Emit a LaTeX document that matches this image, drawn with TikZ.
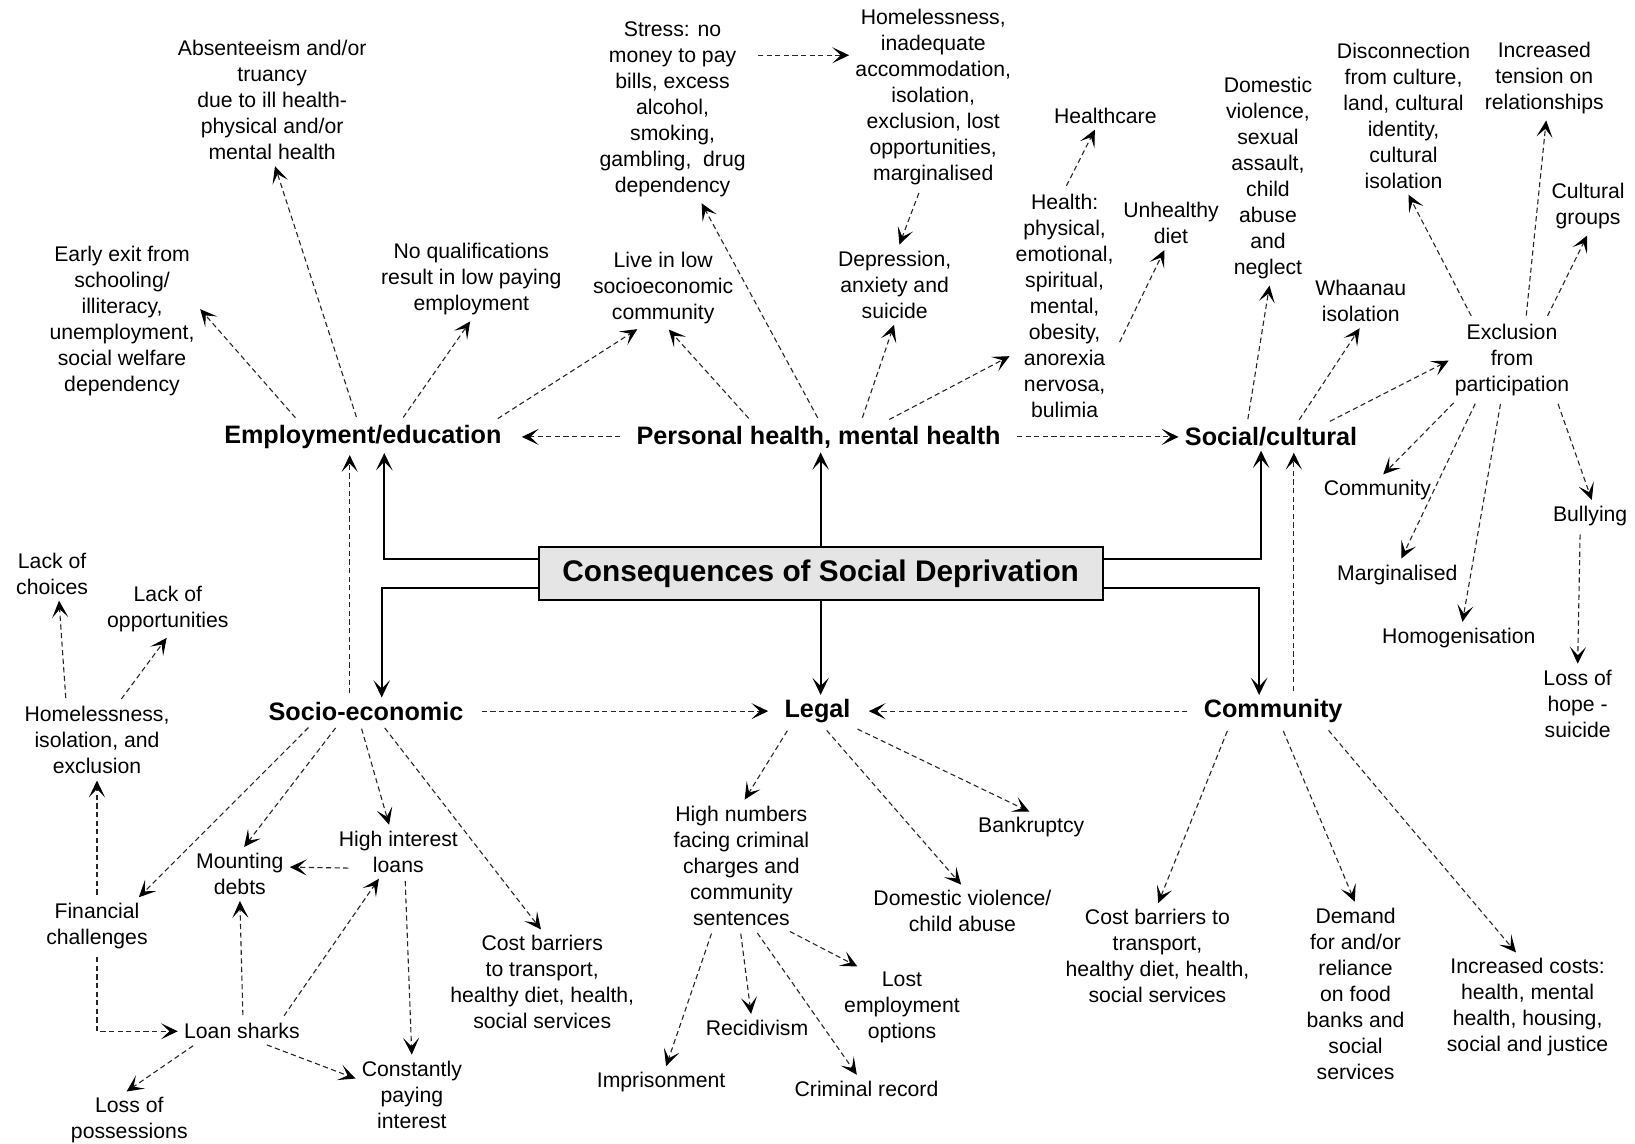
\documentclass[tikz,border=0pt]{standalone}
\usepackage{fontspec}
\setmainfont{Liberation Sans}
\usetikzlibrary{arrows.meta}

\newcommand{\lblfont}{\fontsize{10.6}{13}\selectfont}
\newcommand{\hdrfont}{\bfseries\fontsize{12.6}{15}\selectfont}

\tikzset{
  lbl/.style={align=center, font=\lblfont, inner sep=2pt},
  hdr/.style={font=\hdrfont, inner sep=2pt},
  dsh/.style={black!85, line width=0.55pt, dash pattern=on 2.6pt off 1.7pt,
    shorten <=2pt, shorten >=1pt,
    -{Stealth[length=8.4pt,width=8pt,inset=4.2pt,color=black]}},
  sld/.style={black, line width=1.1pt, -{Stealth[length=8.6pt,width=8.2pt,inset=4.2pt]}},
}

\begin{document}
\begin{tikzpicture}[x=0.5214pt, y=-0.5214pt]
                \useasboundingbox (0,0) rectangle (1568,1097);

                %% centre box
                \node[draw, fill=gray!20, line width=1pt, inner sep=0pt,
                  font=\bfseries\fontsize{14.9}{18}\selectfont,
                  minimum width=282pt, minimum height=26.6pt] (csd) at (787,550) {Consequences of Social Deprivation};

                %% headings
                \node[hdr] (emp)   at (348,419)  {Employment/education};
                \node[hdr] (pers)  at (785,419)  {Personal health, mental health};
                \node[hdr] (soc)   at (1219,419) {Social/cultural};
                \node[hdr] (socio) at (351,682)  {Socio-economic};
                \node[hdr] (legal) at (784,682)  {Legal};
                \node[hdr] (comm)  at (1221,682) {Community};

                \draw[sld] (csd.177) -| (emp.-37);
                \draw[sld] (csd.183) -| (socio.41);
                \draw[sld] (csd.north) -- (csd.north |- pers.south);
                \draw[sld] (csd.south) -- (csd.south |- legal.north);
                \draw[sld] (csd.3) -| (soc.-126);
                \draw[sld] (csd.-3) -| (comm.131);

                \draw[dsh] (socio.140) -- (socio.140 |- emp.south);
                \draw[dsh] (comm.38) -- (comm.38 |- soc.south);
                \draw[dsh, shorten <=6pt, shorten >=8pt] (pers.west) -- (emp.east);
                \draw[dsh, shorten <=6pt] (pers.east) -- (soc.west);
                \draw[dsh, shorten <=7pt, shorten >=6pt] (socio.east) -- (legal.west);
                \draw[dsh, shorten <=6pt, shorten >=7pt] (comm.west) -- (legal.east);

                %% Employment/education
                \node[lbl] (early)   at (117,308) {Early exit from\\schooling/\\illiteracy,\\unemployment,\\social welfare\\dependency};
                \node[lbl] (absent)  at (261,96)  {Absenteeism and/or\\truancy\\due to ill health-\\physical and/or\\mental health};
                \node[lbl] (noqual)  at (452,268) {No qualifications\\result in low paying\\employment};
                \node[lbl] (livelow) at (636,276) {Live in low\\socioeconomic\\community};

                \draw[dsh] (emp.166) -- (early.10);
                \draw[dsh] (emp.108) -- (absent.-88);
                \draw[dsh] (emp.23) -- (noqual.south);
                \draw[dsh] (emp.7) -- (livelow.-121);

                %% Personal health, mental health
                \node[lbl] (stress)     at (645,105)  {Stress: no\\money to pay\\bills, excess\\alcohol,\\smoking,\\gambling,~ drug\\dependency};
                \node[lbl] (homeless1)  at (895,93)   {Homelessness,\\inadequate\\accommodation,\\isolation,\\exclusion, lost\\opportunities,\\marginalised};
                \node[lbl] (depress)    at (858,273)  {Depression,\\anxiety and\\suicide};
                \node[lbl] (health)     at (1021,293) {Health:\\physical,\\emotional,\\spiritual,\\mental,\\obesity,\\anorexia\\nervosa,\\bulimia};
                \node[lbl] (healthcare) at (1060,111) {Healthcare};
                \node[lbl] (diet)       at (1123,214) {Unhealthy\\diet};

                \draw[dsh] (pers.167) -- (livelow.-84);
                \draw[dsh] (pers.86) -- (stress.-73);
                \draw[dsh] (pers.20) -- (depress.south);
                \draw[dsh] (pers.13) -- (health.223);
                \draw[dsh, shorten <=4pt] (stress.35) -- (stress.35 -| homeless1.west);
                \draw[dsh] (homeless1.-98) -- (depress.84);
                \draw[dsh] (health.north) -- (healthcare.-128);
                \draw[dsh] (health.-37) -- (diet.-103);

                %% Social/cultural
                \node[lbl] (domviol)   at (1216,171) {Domestic\\violence,\\sexual\\assault,\\child\\abuse\\and\\neglect};
                \node[lbl] (whaanau)   at (1305,289) {Whaanau\\isolation};
                \node[lbl] (excl)      at (1450,345) {Exclusion\\from\\participation};
                \node[lbl] (disconn)   at (1346,111) {Disconnection\\from culture,\\land, cultural\\identity,\\cultural\\isolation};
                \node[lbl] (tension)   at (1481,75)  {Increased\\tension on\\relationships};
                \node[lbl] (cultgrp)   at (1523,198) {Cultural\\groups};
                \node[lbl] (commsmall) at (1321,470) {Community};
                \node[lbl] (margin)    at (1340,551) {Marginalised};
                \node[lbl] (homog)     at (1399,612) {Homogenisation};
                \node[lbl] (bully)     at (1525,495) {Bullying};
                \node[lbl] (losshope)  at (1513,675) {Loss of\\hope -\\suicide};

                \draw[dsh] (soc.150) -- (domviol.-89);
                \draw[dsh] (soc.28) -- (whaanau.south);
                \draw[dsh] (soc.14) -- (excl.west);
                \draw[dsh] (excl.134) -- (disconn.-87);
                \draw[dsh] (excl.71) -- (tension.-87);
                \draw[dsh] (excl.50) -- (cultgrp.south);
                \draw[dsh] (excl.216) -- (commsmall.73);
                \draw[dsh] (excl.-131) -- (margin.77);
                \draw[dsh] (excl.-105) -- (homog.77);
                \draw[dsh] (excl.-42) -- (bully.81);
                \draw[dsh] (bully.-125) -- (losshope.north);

                %% Socio-economic
                \node[lbl] (homeless2) at (93,710)   {Homelessness,\\isolation, and\\exclusion};
                \node[lbl] (choices)   at (50,550)   {Lack of\\choices};
                \node[lbl] (opport)    at (161,584)  {Lack of\\opportunities};
                \node[lbl] (finch)     at (93,888)   {Financial\\challenges};
                \node[lbl] (debts)     at (230,838)  {Mounting\\debts};
                \node[lbl] (hiloans)   at (382,817)  {High interest\\loans};
                \node[lbl] (costl)     at (520,942)  {Cost barriers\\to transport,\\healthy diet, health,\\social services};
                \node[lbl] (constant)  at (395,1050) {Constantly\\paying\\interest};
                \node[lbl] (sharks)    at (232,989)  {Loan sharks};
                \node[lbl] (losspos)   at (124,1074) {Loss of\\possessions};

                \draw[dsh] (socio.-166) -- (finch.34);
                \draw[dsh] (socio.-154) -- (debts.83);
                \draw[dsh] (socio.-112) -- (hiloans.109);
                \draw[dsh] (socio.-40) -- (costl.north);
                \draw[dsh, shorten <=-7pt] (hiloans.-166) -- (debts.8);
                \draw[dsh] (hiloans.-75) -- (constant.north);
                \draw[dsh] (sharks.17) -- (hiloans.-126);
                \draw[dsh] (sharks.85) -- (debts.south);
                \draw[dsh] (sharks.-165) -- (losspos.99);
                \draw[dsh] (sharks.-30) -- (constant.164);
                \draw[dsh] (finch.south) |- (sharks.west);
                \draw[dsh] (finch.north) -- (homeless2.south);
                \draw[dsh] (homeless2.129) -- (choices.-75);
                \draw[dsh] (homeless2.60) -- (opport.south);

                %% Legal
                \node[lbl] (highnum) at (711,830)  {High numbers\\facing criminal\\charges and\\community\\sentences};
                \node[lbl] (dvca)    at (923,874)  {Domestic violence/\\child abuse};
                \node[lbl] (bankr)   at (989,793)  {Bankruptcy};
                \node[lbl] (prison)  at (634,1038) {Imprisonment};
                \node[lbl] (recid)   at (726,986)  {Recidivism};
                \node[lbl] (crimrec) at (831,1044) {Criminal record};
                \node[lbl] (lostemp) at (865,966)  {Lost\\employment\\options};

                \draw[dsh] (legal.-150) -- (highnum.88);
                \draw[dsh] (legal.-68) -- (dvca.north);
                \draw[dsh] (legal.-24) -- (bankr.north);
                \draw[dsh] (highnum.-114) -- (prison.73);
                \draw[dsh] (highnum.-91) -- (recid.115);
                \draw[dsh] (highnum.-78) -- (crimrec.125);
                \draw[dsh] (highnum.-55) -- (lostemp.137);

                %% Community
                \node[lbl] (costr)   at (1110,917) {Cost barriers to\\transport,\\healthy diet, health,\\social services};
                \node[lbl] (demand)  at (1300,953) {Demand\\for and/or\\reliance\\on food\\banks and\\social\\services};
                \node[lbl] (inccost) at (1465,966) {Increased costs:\\health, mental\\health, housing,\\social and justice};

                \draw[dsh] (comm.-160) -- (costr.north);
                \draw[dsh] (comm.-62) -- (demand.north);
                \draw[dsh] (comm.-17) -- (inccost.101);

            \end{tikzpicture}
\end{document}
